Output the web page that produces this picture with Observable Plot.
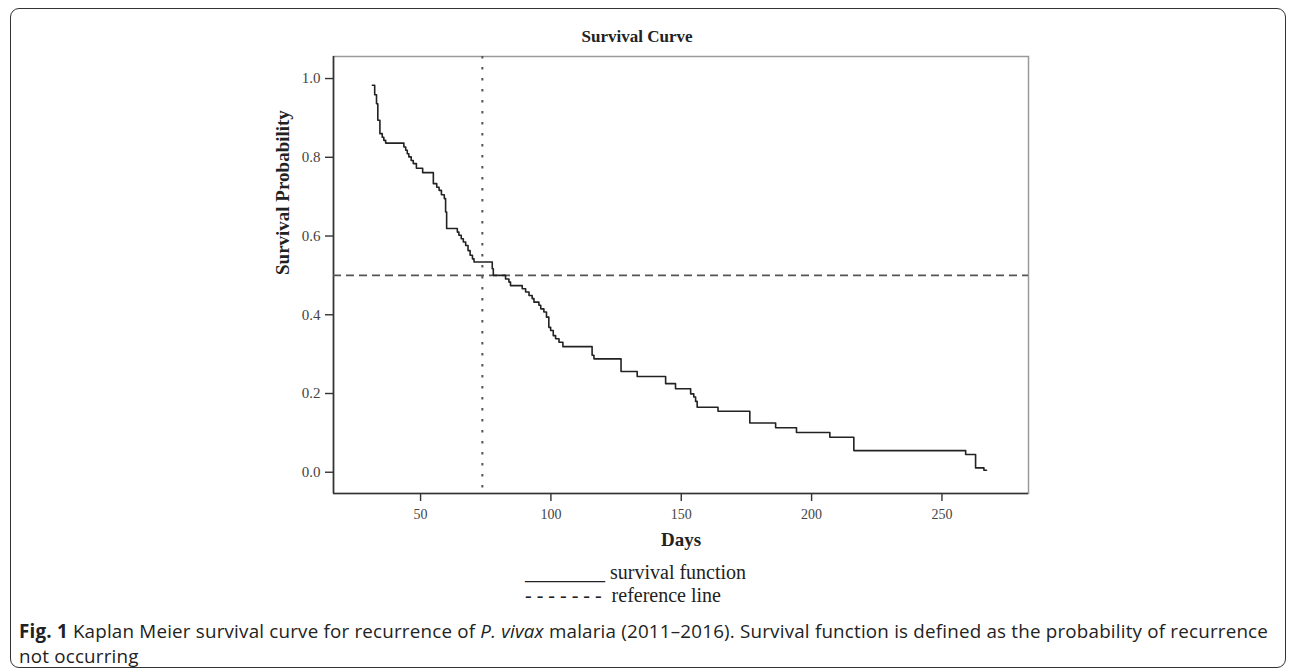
<!DOCTYPE html>
<html>
<head>
<meta charset="utf-8">
<script src="https://cdn.jsdelivr.net/npm/d3@7"></script>
<script src="https://cdn.jsdelivr.net/npm/@observablehq/plot@0.6"></script>
<style>
  html, body { margin: 0; padding: 0; background: #fff; }
  #page { position: relative; width: 1290px; height: 672px; overflow: hidden; }
  #border { position: absolute; left: 10px; top: 8px; width: 1276px; height: 660px; border: 1.5px solid #333; border-radius: 9px; box-sizing: border-box; }
  #chart { position: absolute; left: 0; top: 0; }
  .serif { font-family: "Liberation Serif", "Times New Roman", serif; color: #222; }
  #title { position: absolute; left: 537px; width: 200px; top: 27px; text-align: center; font-weight: bold; font-size: 17px; }
  #legend { position: absolute; left: 525px; top: 561px; font-size: 20px; line-height: 23px; white-space: pre; }
  #caption { position: absolute; left: 19px; top: 619px; font-family: "Open Sans", sans-serif; font-size: 18.8px; letter-spacing: 0.2px; line-height: 25px; color: #222; white-space: nowrap; }
</style>
</head>
<body>
<div id="page">
  <div id="border"></div>
  <div id="chart"></div>
  <div id="title" class="serif">Survival Curve</div>
  <div id="legend" class="serif">________ survival function
- - - - - - -  reference line</div>
  <div id="caption"><b>Fig. 1</b> Kaplan Meier survival curve for recurrence of <i>P. vivax</i> malaria (2011–2016). Survival function is defined as the probability of recurrence<br>not occurring</div>
</div>
<script>
// Kaplan–Meier step curve (day of event, survival probability after it)
const days = [31.5, 32.4, 33.1, 33.6, 34.4, 35.3, 35.9, 36.6,
  43.6, 44.3, 44.9, 45.5, 46.4, 47.2, 48.4, 50.8,
  54.9, 56.2, 57.1, 58.0, 59.1, 59.6, 60.0,
  64.1, 64.7, 65.6, 66.4, 67.3, 68.2, 69.0, 69.9, 70.5,
  77.5, 77.9, 82.6, 83.9, 84.5,
  89.0, 90.3, 91.6, 92.8, 93.5, 95.4, 96.1, 97.3, 98.3, 99.2, 99.9,
  100.9, 101.8, 103.1, 104.6,
  115.8, 116.5, 126.9, 133.1, 144.0, 147.8,
  153.6, 154.8, 155.5, 156.1, 164.1, 176.3, 186.2, 194.2, 207.0, 216.2,
  259.1, 262.9, 266.1, 267.1];
const survival = [0.983, 0.959, 0.936, 0.894, 0.860, 0.851, 0.843, 0.836,
  0.826, 0.818, 0.809, 0.801, 0.792, 0.784, 0.772, 0.761,
  0.733, 0.724, 0.716, 0.705, 0.695, 0.661, 0.619,
  0.610, 0.602, 0.593, 0.585, 0.576, 0.563, 0.551, 0.542, 0.534,
  0.517, 0.500, 0.491, 0.483, 0.474,
  0.466, 0.458, 0.449, 0.441, 0.432, 0.424, 0.415, 0.407, 0.394, 0.368, 0.360,
  0.347, 0.339, 0.330, 0.319,
  0.297, 0.288, 0.256, 0.243, 0.225, 0.212,
  0.199, 0.191, 0.180, 0.165, 0.155, 0.125, 0.113, 0.101, 0.089, 0.055,
  0.045, 0.011, 0.005, 0.005];

const xTicks = [50, 100, 150, 200, 250];
const yTicks = [0, 0.2, 0.4, 0.6, 0.8, 1.0];
const xDomain = [16.6, 283.2];
const yDomain = [-0.054, 1.056];
const medianDay = [73.7];
const referenceProb = [0.5];
const xLabel = ["Days"];
const yLabel = ["Survival Probability"];

const curve = days.map((d, i) => ({day: d, s: survival[i]}));

const serif = "Liberation Serif, Times New Roman, serif";

const chart = Plot.plot({
  width: 1290,
  height: 560,
  marginLeft: 333,
  marginRight: 262,
  marginTop: 56,
  marginBottom: 67,
  style: {fontFamily: serif, background: "transparent", overflow: "visible"},
  x: {domain: xDomain},
  y: {domain: yDomain},
  marks: [
    Plot.frame({stroke: "#9a9a9a", strokeWidth: 1.5}),
    Plot.ruleY([yDomain[0]], {stroke: "#333", strokeWidth: 1.6}),
    Plot.ruleX([xDomain[0]], {stroke: "#333", strokeWidth: 1.6}),
    Plot.ruleY(referenceProb, {stroke: "#555", strokeWidth: 1.6, strokeDasharray: "8,5"}),
    Plot.ruleX(medianDay, {stroke: "#555", strokeWidth: 2, strokeDasharray: "2.5,8.5"}),
    Plot.line(curve, {x: "day", y: "s", curve: "step-after", stroke: "#222", strokeWidth: 1.6}),
    Plot.axisX({ticks: xTicks, tickSize: 8, tickPadding: 8, fontSize: 14, label: null, stroke: "#333", color: "#444", strokeWidth: 1.4}),
    Plot.axisY({ticks: yTicks, tickFormat: d3.format(".1f"), tickSize: 8, tickPadding: 5, fontSize: 15, label: null, stroke: "#333", color: "#444", strokeWidth: 1.4}),
    Plot.text(xLabel, {frameAnchor: "bottom", dy: 52, text: d => d, fontSize: 19, fontWeight: "bold", fill: "#222"}),
    Plot.text(yLabel, {frameAnchor: "left", dx: -51, rotate: -90, text: d => d, fontSize: 19, fontWeight: "bold", fill: "#222"})
  ]
});
document.getElementById("chart").appendChild(chart);
</script>
</body>
</html>
